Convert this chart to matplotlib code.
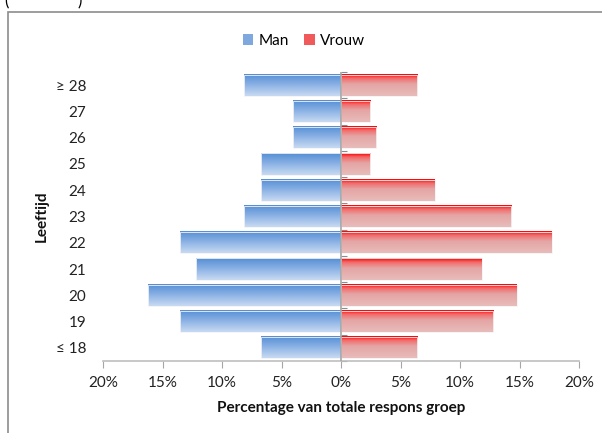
import numpy as np
import matplotlib
matplotlib.use("Agg")
import matplotlib.pyplot as plt
from matplotlib.colors import LinearSegmentedColormap
from matplotlib.patches import Rectangle

plt.rcParams['font.family'] = ['Lato', 'DejaVu Sans']

# data (percent of total response group)
leeftijd = ["≤ 18", "19", "20", "21", "22", "23", "24", "25", "26", "27", "≥ 28"]
man = [6.76, 13.51, 16.22, 12.16, 13.51, 8.11, 6.76, 6.76, 4.05, 4.05, 8.11]
vrouw = [6.40, 12.81, 14.78, 11.82, 17.73, 14.29, 7.88, 2.46, 2.96, 2.46, 6.40]
xticks = [-20, -15, -10, -5, 0, 5, 10, 15, 20]

fig = plt.figure(figsize=(6.02, 4.33), dpi=100)
ax = fig.add_axes([0.1711, 0.1663, 0.7907, 0.6674])

blue_cm = LinearSegmentedColormap.from_list("b", ["#c8daf2", "#8db3e5", "#558ed5"])
red_cm = LinearSegmentedColormap.from_list(
    "r", [(0, "#e8bcbb"), (0.55, "#e4a4a4"), (0.82, "#f26a6a"), (1, "#ff0000")])
grad = np.linspace(0, 1, 64).reshape(-1, 1)

y = np.arange(len(leeftijd))
h = 0.81
bm = ax.barh(y, [-v for v in man], height=h, color="none", edgecolor="none")
bv = ax.barh(y, vrouw, height=h, color="none", edgecolor="none")

for bars, cm in ((bm, blue_cm), (bv, red_cm)):
    for b in bars:
        x0, y0 = b.get_x(), b.get_y()
        w, hh = b.get_width(), b.get_height()
        ax.imshow(grad, cmap=cm, origin="lower", aspect="auto",
                  extent=(x0, x0 + w, y0, y0 + hh), zorder=2)
        ax.add_patch(Rectangle((x0, y0), w, hh, fill=False,
                               edgecolor="#f4f4f4", lw=0.6, zorder=3))

ax.set_xlim(-20, 20)
ax.set_ylim(-0.5, len(leeftijd) - 0.5)
ax.set_xticks(xticks)
ax.set_xticklabels([f"{abs(t)}%" for t in xticks], fontsize=11, color="#222")
ax.set_yticks(y)
ax.set_yticklabels(leeftijd, fontsize=11, color="#222")
ax.tick_params(axis="y", length=0, pad=12)
ax.tick_params(axis="x", length=5, color="#a6a6a6", pad=6)

for s in ("top", "right", "left"):
    ax.spines[s].set_visible(False)
ax.spines["bottom"].set_color("#bfbfbf")
ax.spines["bottom"].set_linewidth(1.2)

# centre axis with small ticks at category boundaries
ax.axvline(0, color="#a6a6a6", lw=1.2, zorder=4)
sec = ax.secondary_yaxis(0.5)
sec.set_yticks(np.arange(-0.5, len(leeftijd), 1.0))
sec.set_yticklabels([])
sec.tick_params(length=4, color="#8c8c8c", direction="out")
for s in sec.spines.values():
    s.set_visible(False)

ax.set_xlabel("Percentage van totale respons groep", fontsize=11,
              fontweight="bold", color="#111", labelpad=8)
ax.set_ylabel("Leeftijd", fontsize=11, fontweight="bold", color="#111")
ax.yaxis.set_label_coords(-0.113, 0.5)

# legend
hm = Rectangle((0, 0), 1, 1, facecolor="#7fa8de", edgecolor="none")
hv = Rectangle((0, 0), 1, 1, facecolor="#f05a5a", edgecolor="none")
fig.legend([hm, hv], ["Man", "Vrouw"], loc="center", bbox_to_anchor=(0.505, 0.905),
           ncol=2, frameon=False, fontsize=11, handlelength=0.7, handleheight=0.7,
           handletextpad=0.35, columnspacing=1.0)

# chart area frame (partly cropped)
fig.patches.append(Rectangle((8 / 602, -0.1), 1.2, 1 - 12 / 433 + 0.1,
                             transform=fig.transFigure, fill=False,
                             edgecolor="#8c8c8c", lw=1.2))
fig.text(4 / 602, 1 - 9 / 433, "(", fontsize=12, va="bottom")
fig.text(78 / 602, 1 - 9 / 433, ")", fontsize=12, va="bottom")

fig.savefig("out.png", dpi=100)
